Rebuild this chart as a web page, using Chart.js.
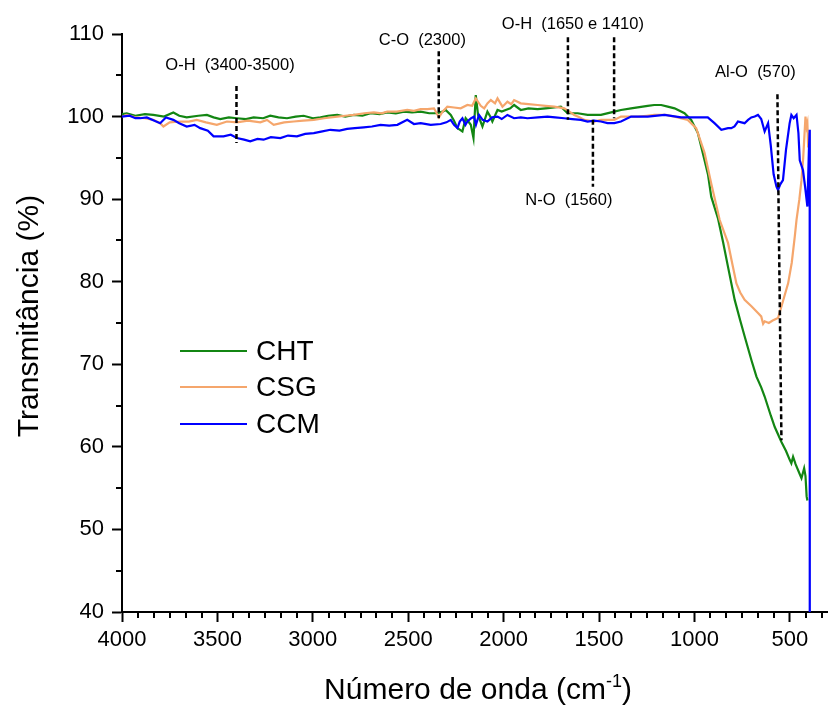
<!DOCTYPE html>
<html>
<head>
<meta charset="utf-8">
<script src="https://cdn.jsdelivr.net/npm/chart.js@4.4.0/dist/chart.umd.min.js"></script>
<style>
  html, body { margin: 0; padding: 0; background: #fff; }
  #wrap { width: 828px; height: 705px; }
</style>
</head>
<body>
<div id="wrap"><canvas id="ftir" width="828" height="705"></canvas></div>
<script>
// wavenumber ticks / axis range
var xTicks = [4000, 3500, 3000, 2500, 2000, 1500, 1000, 500];
var yTicks = [40, 50, 60, 70, 80, 90, 100, 110];
var xMin = 300, xMax = 4000;

// CHT
var chtX = [4000,3975,3930,3880,3836,3780,3731,3700,3661,3600,3555,3520,3485,3440,3398,3350,3310,3260,3223,3180,3135,3090,3048,3000,2960,2920,2872,2830,2785,2740,2697,2650,2610,2565,2522,2480,2435,2390,2348,2320,2304,2277,2260,2242,2216,2199,2185,2172,2158,2146,2134,2111,2085,2070,2059,2032,2010,1989,1965,1945,1910,1870,1822,1780,1735,1700,1665,1612,1560,1490,1420,1385,1332,1245,1211,1174,1140,1104,1052,1017,982,947,929,912,877,850,824,789,760,737,700,675,650,632,600,579,544,520,500,492,483,470,450,439,425,418,412,408];
var chtY = [100.3,100.4,100.1,100.3,100.2,100.0,100.5,100.1,99.9,100.1,100.2,99.9,99.7,99.9,99.8,99.7,99.9,99.8,100.1,99.9,99.8,100.0,100.1,99.8,99.9,100.1,100.2,100.0,100.2,100.1,100.4,100.3,100.5,100.4,100.6,100.5,100.6,100.4,100.4,100.6,100.8,100.2,99.5,98.6,98.2,99.8,99.4,99.0,97.4,102.6,100.2,98.8,100.6,100.0,99.4,100.8,100.6,100.8,101.0,101.4,100.8,101.0,100.9,101.0,101.1,101.2,100.4,100.4,100.2,100.2,100.6,100.8,101.0,101.3,101.4,101.4,101.2,101.0,100.4,99.6,98.0,94.7,93.0,90.3,87.7,84.8,81.8,77.8,75.3,73.4,70.4,68.5,67.2,66.1,63.8,62.4,60.6,59.5,58.4,58.0,58.8,57.9,56.8,56.2,57.4,56.5,54.0,53.5];

// CSG
var csgX = [4000,3975,3930,3880,3836,3800,3783,3750,3695,3650,3608,3560,3503,3450,3398,3340,3275,3240,3205,3150,3100,3050,2995,2940,2872,2830,2785,2730,2680,2640,2610,2560,2505,2470,2435,2400,2365,2339,2320,2295,2260,2225,2190,2165,2146,2120,2102,2085,2067,2045,2032,2006,1980,1960,1945,1910,1870,1822,1780,1735,1682,1655,1630,1600,1577,1525,1490,1455,1420,1385,1367,1297,1250,1210,1150,1104,1035,991,947,912,868,824,800,780,760,737,700,667,650,640,632,610,590,562,544,509,490,474,465,450,439,430,418,412,408,404,401];
var csgY = [100.0,100.2,99.9,99.8,99.6,99.2,98.8,99.3,99.4,99.4,99.6,99.3,99.0,99.4,99.3,99.5,99.3,99.6,99.0,99.3,99.4,99.5,99.6,99.8,100.0,100.1,100.2,100.4,100.5,100.4,100.6,100.6,100.8,100.7,100.9,100.9,101.0,99.9,100.6,101.2,101.1,101.0,101.4,101.3,102.2,101.3,101.0,101.6,102.0,101.6,102.2,101.2,101.8,101.5,102.0,101.6,101.5,101.4,101.3,101.2,101.0,100.6,100.2,99.9,99.6,99.4,99.6,99.6,99.6,100.0,100.0,100.0,100.1,100.2,100.2,100.0,99.6,98.6,95.6,91.9,87.5,84.7,82.0,79.8,78.7,77.8,77.0,76.2,75.8,74.9,75.2,75.0,75.3,75.6,77.0,79.8,82.3,85.5,87.5,90.0,92.3,95.0,100.0,98.8,99.2,96.4,98.0];

// CCM
var ccmX = [4000,3960,3930,3905,3870,3830,3800,3770,3731,3700,3661,3620,3590,3550,3520,3468,3430,3398,3360,3328,3290,3258,3220,3170,3130,3083,3040,2995,2950,2908,2860,2820,2780,2733,2690,2645,2600,2557,2505,2470,2435,2382,2330,2300,2277,2260,2242,2230,2216,2200,2190,2170,2155,2145,2129,2110,2085,2060,2032,2010,1980,1945,1910,1875,1820,1770,1730,1682,1640,1595,1560,1525,1490,1455,1420,1385,1332,1245,1157,1070,982,930,895,859,824,807,790,772,754,737,719,702,684,667,650,632,614,600,585,570,562,550,536,520,501,492,480,465,455,448,431,420,408,400,396,395.5];
var ccmY = [100.0,100.1,99.8,99.8,99.9,99.5,99.2,99.9,99.6,99.2,98.8,99.0,98.6,98.3,97.6,97.6,97.8,97.4,97.2,97.0,97.3,97.2,97.5,97.4,97.7,97.6,97.9,98.0,98.2,98.4,98.3,98.5,98.6,98.7,98.8,99.0,98.9,99.0,99.6,99.1,99.2,99.0,99.1,99.3,99.6,99.0,98.6,99.4,99.8,99.0,99.4,99.8,100.0,99.0,100.2,99.6,99.4,99.9,100.0,99.7,100.2,99.8,99.9,99.8,99.9,100.0,99.9,99.8,99.7,99.6,99.4,99.5,99.4,99.2,99.2,99.4,100.0,100.0,100.2,99.9,99.9,99.9,99.2,98.4,98.6,98.6,98.8,99.4,99.3,99.2,99.6,99.9,100.0,100.2,99.7,98.2,99.2,96.5,93.0,91.5,91.1,91.8,92.3,96.0,99.2,100.2,99.8,100.2,98.0,94.7,93.5,91.5,89.1,96.0,98.4,30];

// band markers (dashed lines) and their labels
var markOH1 = { x: [3400, 3400], y: [103.7, 96.8] };
var markCO = { x: [2340, 2340], y: [107.9, 99.8] };
var markOH2a = { x: [1663, 1663], y: [109.6, 99.6] };
var markOH2b = { x: [1421, 1421], y: [109.6, 99.8] };
var markNO = { x: [1532, 1532], y: [99.6, 91.5] };
var markAlO = { x: [565, 560, 544], y: [102.7, 91.1, 60.8] };

var bandText = ["O-H  (3400-3500)", "C-O  (2300)", "O-H  (1650 e 1410)", "N-O  (1560)", "Al-O  (570)"];
var bandTextX = [3434, 2426, 1637, 1658, 681];
var bandTextY = [106.25, 109.2, 111.2, 89.8, 105.4];

function pts(xs, ys) {
  var out = [];
  for (var i = 0; i < xs.length; i++) out.push({ x: xs[i], y: ys[i] });
  return out;
}

function series(label, xs, ys, color, order) {
  return {
    label: label,
    data: pts(xs, ys),
    borderColor: color,
    backgroundColor: color,
    borderWidth: 2.2,
    pointRadius: 0,
    tension: 0,
    fill: false,
    order: order
  };
}

function marker(m) {
  return {
    label: '',
    data: pts(m.x, m.y),
    borderColor: '#000',
    borderWidth: 2.5,
    borderDash: [5, 3],
    pointRadius: 0,
    tension: 0,
    fill: false,
    order: 0
  };
}

var FONT = "'Liberation Sans', Arial, sans-serif";

var decor = {
  id: 'decor',
  afterDraw: function(chart) {
    var ctx = chart.ctx;
    var xs = chart.scales.x, ys = chart.scales.y, area = chart.chartArea;
    ctx.save();

    // minor ticks
    ctx.strokeStyle = '#000';
    ctx.lineWidth = 2;
    var step = 500 / 6;
    for (var k = 0; ; k++) {
      var v = xMax - k * step;
      if (v < xMin) break;
      if (k % 6 === 0) continue;
      var px = Math.round(xs.getPixelForValue(v));
      ctx.beginPath(); ctx.moveTo(px, area.bottom); ctx.lineTo(px, area.bottom + 6); ctx.stroke();
    }
    for (var yv = 45; yv < 110; yv += 10) {
      var py = Math.round(ys.getPixelForValue(yv));
      ctx.beginPath(); ctx.moveTo(area.left - 6, py); ctx.lineTo(area.left, py); ctx.stroke();
    }

    // band labels
    ctx.fillStyle = '#000';
    ctx.font = '16.5px ' + FONT;
    ctx.textAlign = 'center';
    ctx.textBaseline = 'middle';
    for (var i = 0; i < bandText.length; i++) {
      ctx.fillText(bandText[i], xs.getPixelForValue(bandTextX[i]), ys.getPixelForValue(bandTextY[i]));
    }

    // legend
    var legY = [351, 387, 424];
    ctx.font = '28px ' + FONT;
    ctx.textAlign = 'left';
    for (var j = 0; j < 3; j++) {
      var ds = chart.data.datasets[j];
      ctx.strokeStyle = ds.borderColor;
      ctx.lineWidth = 2.2;
      ctx.beginPath(); ctx.moveTo(180, legY[j]); ctx.lineTo(247, legY[j]); ctx.stroke();
      ctx.fillStyle = '#000';
      ctx.fillText(ds.label, 256, legY[j] + 1);
    }

    // y title
    ctx.save();
    ctx.translate(30, 316);
    ctx.rotate(-Math.PI / 2);
    ctx.font = '30px ' + FONT;
    ctx.textAlign = 'center';
    ctx.fillText('Transmitância (%)', 0, 0);
    ctx.restore();

    // x title with superscript
    ctx.font = '30px ' + FONT;
    var a = 'Número de onda (cm', sup = '-1', b = ')';
    ctx.textBaseline = 'alphabetic';
    var wa = ctx.measureText(a).width, wb = ctx.measureText(b).width;
    ctx.font = '18px ' + FONT;
    var ws = ctx.measureText(sup).width;
    var x0 = 478 - (wa + ws + wb) / 2, base = 699;
    ctx.textAlign = 'left';
    ctx.font = '30px ' + FONT;
    ctx.fillText(a, x0, base);
    ctx.font = '18px ' + FONT;
    ctx.fillText(sup, x0 + wa, base - 12);
    ctx.font = '30px ' + FONT;
    ctx.fillText(b, x0 + wa + ws, base);

    ctx.restore();
  }
};

var axisGrid = {
  display: true,
  drawOnChartArea: false,
  drawTicks: true,
  tickLength: 10,
  tickWidth: 2,
  color: '#000'
};

function plain(v) { return String(v); }

new Chart(document.getElementById('ftir'), {
  type: 'line',
  data: {
    datasets: [
      series('CHT', chtX, chtY, '#138613', 3),
      series('CSG', csgX, csgY, '#F5A66C', 2),
      series('CCM', ccmX, ccmY, '#0000FF', 1),
      marker(markOH1),
      marker(markCO),
      marker(markOH2a),
      marker(markOH2b),
      marker(markNO),
      marker(markAlO)
    ]
  },
  options: {
    responsive: false,
    animation: false,
    devicePixelRatio: 1,
    layout: { padding: { top: 34, right: 0, left: 0, bottom: 0 } },
    plugins: {
      legend: { display: false },
      tooltip: { enabled: false }
    },
    scales: {
      x: {
        type: 'linear',
        reverse: true,
        min: xMin,
        max: xMax,
        afterBuildTicks: function(s) { s.ticks = xTicks.map(function(v) { return { value: v }; }); },
        afterFit: function(s) { s.height = 93; },
        grid: axisGrid,
        border: { display: true, color: '#000', width: 2 },
        ticks: { color: '#000', font: { size: 22, family: FONT }, padding: 5, maxRotation: 0, autoSkip: false, callback: plain }
      },
      y: {
        min: 40,
        max: 110,
        afterBuildTicks: function(s) { s.ticks = yTicks.map(function(v) { return { value: v }; }); },
        afterFit: function(s) { s.width = 122; },
        grid: axisGrid,
        border: { display: true, color: '#000', width: 2 },
        ticks: { color: '#000', font: { size: 22, family: FONT }, padding: 8, callback: plain }
      }
    }
  },
  plugins: [decor]
});
</script>
</body>
</html>
